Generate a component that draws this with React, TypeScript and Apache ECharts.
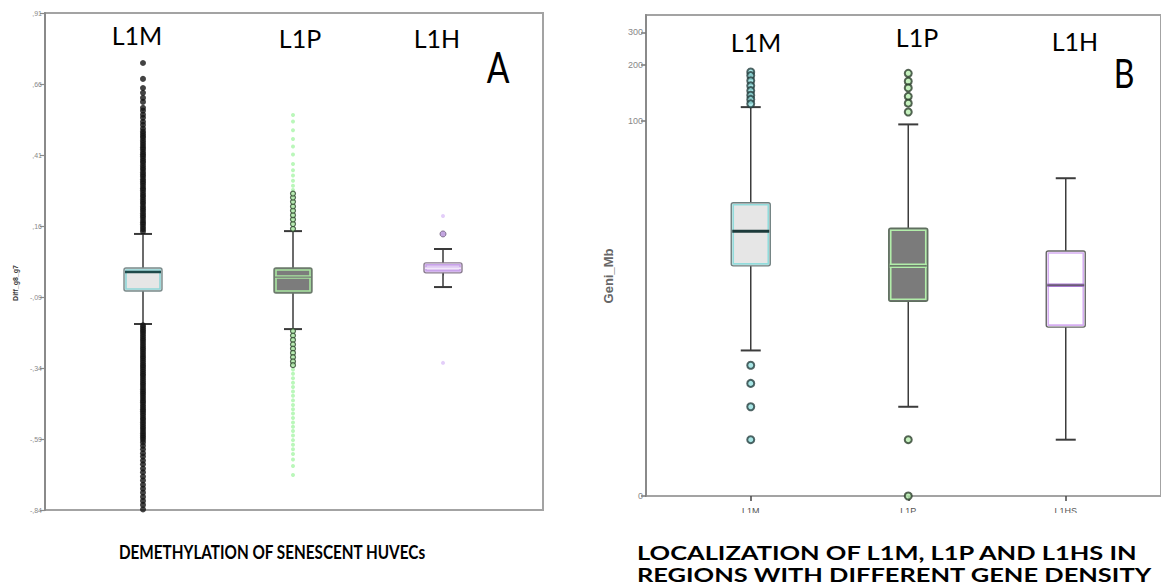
import React, { useEffect, useRef } from "react";
import * as echarts from "echarts";

// ---------- Panel A data ----------
const LEFT_CATEGORIES = ["L1M", "L1P", "L1H"];
const LEFT_TICKS = [-0.84, -0.59, -0.34, -0.09, 0.16, 0.41, 0.66, 0.91];
// [lower whisker, Q1, median, Q3, upper whisker]
const LEFT_L1M_BOX = [-0.185, -0.069, -0.002, 0.012, 0.132];
const LEFT_L1P_BOX = [-0.203, -0.076, -0.02, 0.012, 0.142];
const LEFT_L1H_BOX = [-0.055, -0.005, 0.012, 0.03, 0.079];

const LEFT_L1M_OUTLIERS = [
  0.734, 0.678, 0.646, 0.629, 0.611, 0.597, 0.576, 0.566, 0.552, 0.541, 0.527, 0.516, 0.503, 0.493,
  0.485, 0.477, 0.47, 0.461, 0.453, 0.445, 0.437, 0.43, 0.421, 0.413, 0.406, 0.397, 0.389, 0.382,
  0.373, 0.365, 0.358, 0.349, 0.341, 0.334, 0.325, 0.317, 0.31, 0.301, 0.293, 0.286, 0.277, 0.269,
  0.262, 0.253, 0.245, 0.238, 0.229, 0.221, 0.214, 0.205, 0.197, 0.19, 0.181, 0.173, 0.166, 0.157,
  0.149, 0.141,
  -0.19, -0.198, -0.206, -0.213, -0.221, -0.229, -0.237, -0.244, -0.252, -0.26, -0.268, -0.275,
  -0.283, -0.291, -0.299, -0.306, -0.314, -0.322, -0.33, -0.337, -0.345, -0.353, -0.361, -0.368,
  -0.376, -0.384, -0.392, -0.399, -0.407, -0.415, -0.423, -0.43, -0.438, -0.446, -0.454, -0.461,
  -0.469, -0.477, -0.485, -0.492, -0.5, -0.508, -0.516, -0.523, -0.531, -0.539, -0.547, -0.554,
  -0.562, -0.57, -0.578, -0.585, -0.593, -0.602, -0.614, -0.626, -0.64, -0.652, -0.666, -0.679,
  -0.694, -0.707, -0.722, -0.736, -0.751, -0.765, -0.779, -0.794, -0.808, -0.822, -0.838,
];
const LEFT_L1P_OUTLIERS = [
  0.15, 0.167, 0.183, 0.198, 0.214, 0.229, 0.245, 0.26, 0.274,
  -0.21, -0.226, -0.241, -0.257, -0.272, -0.287, -0.302, -0.317, -0.33,
];
const LEFT_L1P_EXTREMES = [
  0.551, 0.528, 0.497, 0.466, 0.44, 0.412, 0.378, 0.356, 0.338, 0.319, 0.302, 0.287,
  -0.345, -0.36, -0.376, -0.392, -0.407, -0.423, -0.438, -0.454, -0.47, -0.485, -0.5, -0.516,
  -0.532, -0.547, -0.562, -0.578, -0.594, -0.61, -0.626, -0.643, -0.662, -0.685, -0.717,
];
const LEFT_L1H_OUTLIERS = [0.132];
const LEFT_L1H_EXTREMES = [0.195, -0.322];

// ---------- Panel B data ----------
const RIGHT_CATEGORIES = ["L1M", "L1P", "L1HS"];
const RIGHT_TICKS = [0, 100, 200, 300];
const RIGHT_L1M_BOX = [5, 16, 25, 36, 119];
const RIGHT_L1P_BOX = [2, 10, 16, 26, 96];
const RIGHT_L1HS_BOX = [1, 7, 12.4, 19.4, 49];
const RIGHT_L1M_OUTLIERS = [184, 176, 165, 155, 146, 138, 131, 124, 4, 3, 2, 1];
const RIGHT_L1P_OUTLIERS = [181, 164, 151, 136, 125, 112, 1, 0];
const RIGHT_MAX = 372;

// ---------- styles ----------
const LEFT_STYLES = [
  { fill: "#e6e6e6", outline: "#7a8a8a", inner: "#8fd6d8", median: "#1f4a4a", medianW: 2.5, medianCore: null },
  { fill: "#7c7c7c", outline: "#6a7a6a", inner: "#a8e6a0", median: "#a8e6a0", medianW: 3.5, medianCore: "#777" },
  { fill: "#f7f2fb", outline: "#8a7a90", inner: "#c9a2ea", median: "#c9a2ea", medianW: 3, medianCore: "#fff" },
];
const RIGHT_STYLES = [
  { fill: "#e6e6e6", outline: "#6f7f7f", inner: "#92dcdc", median: "#1c3a3a", medianW: 3, medianCore: null },
  { fill: "#7b7b7b", outline: "#5f6f5f", inner: "#b2eeaa", median: "#b2eeaa", medianW: 4.5, medianCore: "#555" },
  { fill: "#ffffff", outline: "#666", inner: "#d6aef2", median: "#a878d0", medianW: 3.5, medianCore: "#555" },
];

const tf = (v: number) => Math.log10(v + 1);

function boxRenderer(styles: any[], bw: number, capW: number, whisker: string) {
  return (params: any, api: any) => {
    const i = api.value(0);
    const s = styles[params.dataIndex];
    const p = (k: number) => api.coord([i, api.value(k)]);
    const cx = p(1)[0];
    const yLow = p(1)[1];
    const yQ1 = p(2)[1];
    const yMed = p(3)[1];
    const yQ3 = p(4)[1];
    const yHigh = p(5)[1];
    const left = cx - bw / 2;
    const h = yQ1 - yQ3;
    const children: any[] = [
      { type: "line", shape: { x1: cx, y1: yQ3, x2: cx, y2: yHigh }, style: { stroke: whisker, lineWidth: 1.5 } },
      { type: "line", shape: { x1: cx, y1: yQ1, x2: cx, y2: yLow }, style: { stroke: whisker, lineWidth: 1.5 } },
      { type: "line", shape: { x1: cx - capW / 2, y1: yHigh, x2: cx + capW / 2, y2: yHigh }, style: { stroke: whisker, lineWidth: 2 } },
      { type: "line", shape: { x1: cx - capW / 2, y1: yLow, x2: cx + capW / 2, y2: yLow }, style: { stroke: whisker, lineWidth: 2 } },
      { type: "rect", shape: { x: left, y: yQ3, width: bw, height: h, r: 2 }, style: { fill: s.fill, stroke: s.outline, lineWidth: 1.4 } },
      { type: "rect", shape: { x: left + 2, y: yQ3 + 2, width: bw - 4, height: h - 4 }, style: { fill: "none", stroke: s.inner, lineWidth: 1.6 } },
      { type: "line", shape: { x1: left + 1, y1: yMed, x2: left + bw - 1, y2: yMed }, style: { stroke: s.median, lineWidth: s.medianW } },
    ];
    if (s.medianCore) {
      children.push({ type: "line", shape: { x1: left + 1, y1: yMed, x2: left + bw - 1, y2: yMed }, style: { stroke: s.medianCore, lineWidth: 1.2 } });
    }
    return { type: "group", children };
  };
}

const leftFmt = (v: number) => {
  const s = Math.abs(v).toFixed(2).replace(/^0\./, ",");
  return v < 0 ? "-" + s : s;
};

export default function App() {
  const ref = useRef<HTMLDivElement>(null);
  useEffect(() => {
    if (!ref.current) return;
    const chart = echarts.init(ref.current, null, { renderer: "svg" });
    const leftBoxes = [LEFT_L1M_BOX, LEFT_L1P_BOX, LEFT_L1H_BOX].map((b, i) => [i, ...b]);
    const rightBoxes = [RIGHT_L1M_BOX, RIGHT_L1P_BOX, RIGHT_L1HS_BOX].map((b, i) => [i, ...b.map(tf)]);
    const rightTickPos = RIGHT_TICKS.map(tf);
    const titleFont = "Lato, 'Open Sans', sans-serif";
    const option: any = {
      animation: false,
      textStyle: { fontFamily: "'Liberation Sans', Arial, sans-serif" },
      grid: [
        { left: 45, top: 13, width: 498, height: 497, show: true, borderColor: "#a3a3a3", borderWidth: 2 },
        { left: 68, top: 13, width: 450, height: 497 },
        { left: 646, top: 15, width: 530, height: 481, show: true, borderColor: "#a3a3a3", borderWidth: 2 },
        { left: 672, top: 15, width: 472.5, height: 481 },
      ],
      xAxis: [
        { gridIndex: 0, type: "value", min: 0, max: 1, show: false },
        {
          gridIndex: 1, type: "category", data: LEFT_CATEGORIES,
          axisLine: { show: false },
          axisTick: { show: true, alignWithLabel: true, interval: 0, length: 4, lineStyle: { color: "#777", width: 1 } },
          axisLabel: { show: false },
        },
        { gridIndex: 2, type: "value", min: 0, max: 1, show: false },
        {
          gridIndex: 3, type: "category", data: RIGHT_CATEGORIES,
          axisLine: { show: false },
          axisTick: { show: true, alignWithLabel: true, interval: 0, length: 5, lineStyle: { color: "#444", width: 1.5 } },
          axisLabel: { fontSize: 9, color: "#555", margin: 10 },
        },
      ],
      yAxis: [
        {
          gridIndex: 0, type: "value", min: -0.84, max: 0.91,
          axisLine: { show: true, lineStyle: { color: "#8a8a8a", width: 2 } },
          axisTick: { show: true, customValues: LEFT_TICKS, length: 5, lineStyle: { color: "#8a8a8a", width: 1.2 } },
          axisLabel: { customValues: LEFT_TICKS, formatter: leftFmt, fontSize: 7, color: "#888", margin: 3 },
          splitLine: { show: false },
        },
        { gridIndex: 1, type: "value", min: -0.84, max: 0.91, show: false },
        {
          gridIndex: 2, type: "value", min: 0, max: tf(RIGHT_MAX),
          axisLine: { show: true, lineStyle: { color: "#8a8a8a", width: 2 } },
          axisTick: { show: true, customValues: rightTickPos, length: 5, lineStyle: { color: "#777", width: 1.5 } },
          axisLabel: {
            customValues: rightTickPos, fontSize: 9, color: "#888", margin: 3,
            formatter: (v: number) => String(Math.round(Math.pow(10, v) - 1)),
          },
          splitLine: { show: false },
        },
        { gridIndex: 3, type: "value", min: 0, max: tf(RIGHT_MAX), show: false },
      ],
      series: [
        {
          type: "custom", xAxisIndex: 1, yAxisIndex: 1, data: leftBoxes, clip: false,
          encode: { x: 0, y: [1, 2, 3, 4, 5] },
          renderItem: boxRenderer(LEFT_STYLES, 38, 18, "#3a3a3a"),
        },
        {
          type: "scatter", xAxisIndex: 1, yAxisIndex: 1, symbolSize: 6,
          itemStyle: { color: "#141414" },
          data: LEFT_L1M_OUTLIERS.map((v) => [0, v]),
        },
        {
          type: "scatter", xAxisIndex: 1, yAxisIndex: 1, symbolSize: 4,
          itemStyle: { color: "#a9f5a9" },
          data: LEFT_L1P_EXTREMES.map((v) => [1, v]),
        },
        {
          type: "scatter", xAxisIndex: 1, yAxisIndex: 1, symbolSize: 5,
          itemStyle: { color: "#a8e6a0", borderColor: "#2f4a2f", borderWidth: 1.2 },
          data: LEFT_L1P_OUTLIERS.map((v) => [1, v]),
        },
        {
          type: "scatter", xAxisIndex: 1, yAxisIndex: 1, symbolSize: 6,
          itemStyle: { color: "#b48ed8", borderColor: "#6a5a78", borderWidth: 1 },
          data: LEFT_L1H_OUTLIERS.map((v) => [2, v]),
        },
        {
          type: "scatter", xAxisIndex: 1, yAxisIndex: 1, symbolSize: 4,
          itemStyle: { color: "#dcc2f8" },
          data: LEFT_L1H_EXTREMES.map((v) => [2, v]),
        },
        {
          type: "custom", xAxisIndex: 3, yAxisIndex: 3, data: rightBoxes, clip: false,
          encode: { x: 0, y: [1, 2, 3, 4, 5] },
          renderItem: boxRenderer(RIGHT_STYLES, 39, 20, "#3c3c3c"),
        },
        {
          type: "scatter", xAxisIndex: 3, yAxisIndex: 3, symbolSize: 7,
          itemStyle: { color: "#93e0e0", borderColor: "#253f3f", borderWidth: 2 },
          data: RIGHT_L1M_OUTLIERS.map((v) => [0, tf(v)]),
        },
        {
          type: "scatter", xAxisIndex: 3, yAxisIndex: 3, symbolSize: 7,
          itemStyle: { color: "#b6eeae", borderColor: "#2c3f2c", borderWidth: 2 },
          data: RIGHT_L1P_OUTLIERS.map((v) => [1, tf(v)]),
        },
      ],
      graphic: [
        { type: "rect", z: 50, shape: { x: 600, y: 513, width: 561, height: 73 }, style: { fill: "#fff" } },
        { type: "text", z: 60, x: 15, y: 283, rotation: Math.PI / 2, style: { text: "Diff_g8_g7", font: "bold 7px 'Liberation Sans', Arial, sans-serif", fill: "#333", align: "center", verticalAlign: "middle" } },
        { type: "text", z: 60, x: 608, y: 276, rotation: Math.PI / 2, style: { text: "Geni_Mb", font: "bold 13px 'Liberation Sans', Arial, sans-serif", fill: "#666", align: "center", verticalAlign: "middle" } },
        { type: "text", z: 60, x: 137, y: 35, style: { text: "L1M", font: `25px ${titleFont}`, fill: "#000", align: "center", verticalAlign: "middle" } },
        { type: "text", z: 60, x: 300, y: 38, style: { text: "L1P", font: `25px ${titleFont}`, fill: "#000", align: "center", verticalAlign: "middle" } },
        { type: "text", z: 60, x: 437, y: 38, style: { text: "L1H", font: `25px ${titleFont}`, fill: "#000", align: "center", verticalAlign: "middle" } },
        { type: "text", z: 60, x: 498, y: 66, scaleX: 0.8, style: { text: "A", font: `42px ${titleFont}`, fill: "#000", align: "center", verticalAlign: "middle" } },
        { type: "text", z: 60, x: 756, y: 42, style: { text: "L1M", font: `25px ${titleFont}`, fill: "#000", align: "center", verticalAlign: "middle" } },
        { type: "text", z: 60, x: 917, y: 37, style: { text: "L1P", font: `25px ${titleFont}`, fill: "#000", align: "center", verticalAlign: "middle" } },
        { type: "text", z: 60, x: 1075, y: 41, style: { text: "L1H", font: `25px ${titleFont}`, fill: "#000", align: "center", verticalAlign: "middle" } },
        { type: "text", z: 60, x: 1124, y: 73, scaleX: 0.8, style: { text: "B", font: `40px ${titleFont}`, fill: "#000", align: "center", verticalAlign: "middle" } },
        { type: "text", z: 60, x: 272, y: 553, scaleX: 0.85, style: { text: "DEMETHYLATION OF SENESCENT HUVECs", font: `bold 18px ${titleFont}`, fill: "#000", align: "center", verticalAlign: "middle" } },
        { type: "text", z: 60, x: 637, y: 553, scaleX: 1.34, style: { text: "LOCALIZATION OF L1M, L1P AND L1HS IN", font: `bold 19px ${titleFont}`, fill: "#000", align: "left", verticalAlign: "middle" } },
        { type: "text", z: 60, x: 637, y: 575, scaleX: 1.34, style: { text: "REGIONS WITH DIFFERENT GENE DENSITY", font: `bold 19px ${titleFont}`, fill: "#000", align: "left", verticalAlign: "middle" } },
      ],
    };
    chart.setOption(option);
    return () => chart.dispose();
  }, []);
  return (
    <div
      ref={ref}
      style={{ position: "fixed", left: 0, top: 0, width: 1161, height: 586, background: "#fff" }}
    />
  );
}
